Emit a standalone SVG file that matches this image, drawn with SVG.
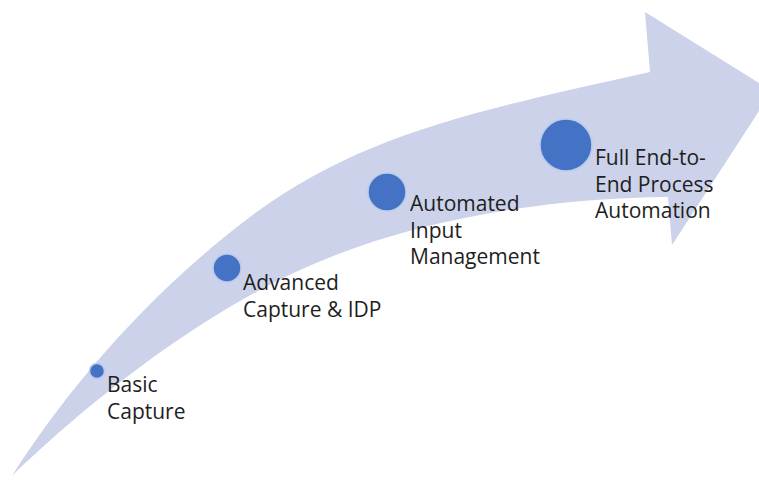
<svg xmlns="http://www.w3.org/2000/svg" width="759" height="482" viewBox="0 0 759 482">
<style>
.band{fill:#cbd2e9;stroke:none}
.dot{fill:#4472c4;stroke:#b8cbec;stroke-width:1.5}
.lbl{font-family:"Open Sans","Liberation Sans",sans-serif;font-size:21px;fill:#1e1e1e}
</style>
<rect width="759" height="482" fill="#fff"/>
<g id="connectors">
<path class="band" d="M12,476 C60,400 140,300 250,217 S480,110 650,72 L645,12 L772,91 L672,245 L668,197 C560,198 420,215 300,270 C180,325 70,420 12,476 Z"/>
</g>
<g id="node-basic">
<circle class="dot" cx="97" cy="371" r="7.5"/>
<text class="lbl" x="107" y="392">Basic</text>
<text class="lbl" x="107" y="418.5">Capture</text>
</g>
<g id="node-advanced">
<circle class="dot" cx="227" cy="268" r="14"/>
<text class="lbl" x="243" y="290">Advanced</text>
<text class="lbl" x="243" y="316.5">Capture &amp; IDP</text>
</g>
<g id="node-automated">
<circle class="dot" cx="387" cy="192" r="19"/>
<text class="lbl" x="410" y="211">Automated</text>
<text class="lbl" x="410" y="237.5">Input</text>
<text class="lbl" x="410" y="264">Management</text>
</g>
<g id="node-full">
<circle class="dot" cx="566" cy="145" r="26"/>
<text class="lbl" x="595" y="165">Full End-to-</text>
<text class="lbl" x="595" y="191.5">End Process</text>
<text class="lbl" x="595" y="218">Automation</text>
</g>
</svg>
